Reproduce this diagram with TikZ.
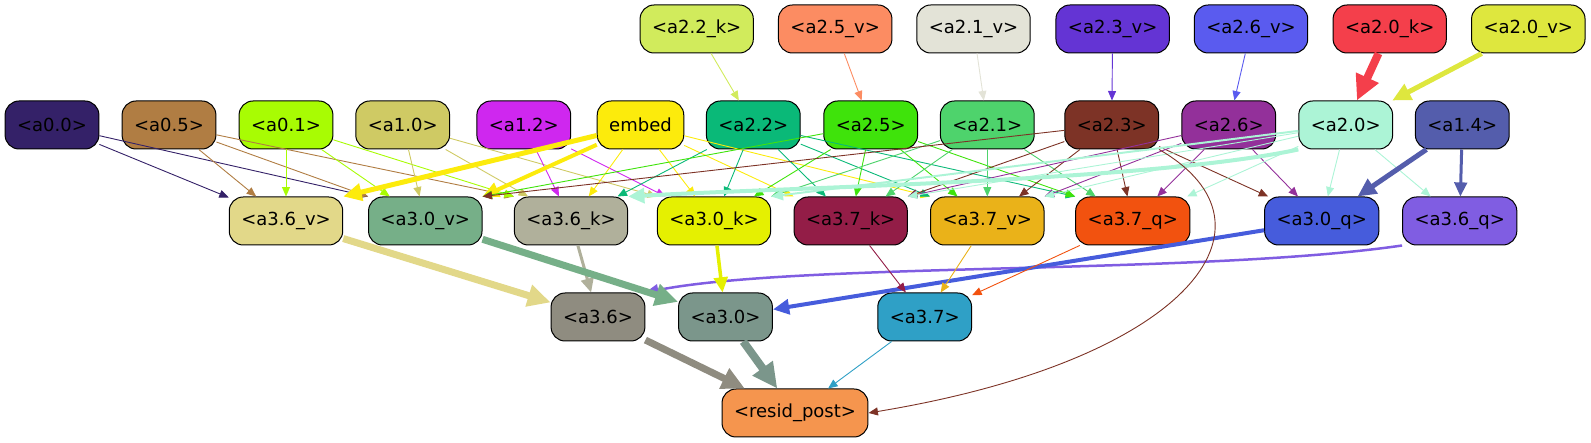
\documentclass[tikz,border=0pt]{standalone}
\usepackage{fontspec}
\setmainfont{DejaVu Sans}
\usetikzlibrary{arrows.meta}
\definecolor{c22k}{HTML}{D1EB5C}
\definecolor{c25v}{HTML}{FC8C62}
\definecolor{c21v}{HTML}{E3E3D7}
\definecolor{c23v}{HTML}{6434D4}
\definecolor{c26v}{HTML}{5A5BEF}
\definecolor{c20k}{HTML}{F43F4B}
\definecolor{c20v}{HTML}{DEE73E}
\definecolor{c00}{HTML}{342168}
\definecolor{c05}{HTML}{B07D43}
\definecolor{c01}{HTML}{A8FC03}
\definecolor{c10}{HTML}{CFCA64}
\definecolor{c12}{HTML}{CF27EF}
\definecolor{cemb}{HTML}{FCEB0C}
\definecolor{c22}{HTML}{0AB978}
\definecolor{c25}{HTML}{3FE30B}
\definecolor{c21}{HTML}{4ED36C}
\definecolor{c23}{HTML}{7D3326}
\definecolor{c26}{HTML}{93309A}
\definecolor{c20}{HTML}{ACF4D6}
\definecolor{c14}{HTML}{545DAC}
\definecolor{c36v}{HTML}{E2D889}
\definecolor{c30v}{HTML}{76AF88}
\definecolor{c36k}{HTML}{B0B09B}
\definecolor{c30k}{HTML}{E5F001}
\definecolor{c37k}{HTML}{931D47}
\definecolor{c37v}{HTML}{EAB219}
\definecolor{c37q}{HTML}{F2520F}
\definecolor{c30q}{HTML}{465CDC}
\definecolor{c36q}{HTML}{805DE2}
\definecolor{c36}{HTML}{8F8C80}
\definecolor{c30}{HTML}{7B968B}
\definecolor{c37}{HTML}{2FA0C6}
\definecolor{cres}{HTML}{F5954E}
\tikzset{
  blk/.style={draw=black, line width=1pt, rounded corners=14pt, minimum height=48pt,
    inner xsep=12pt, inner ysep=0pt, text=black, font=\fontsize{18}{21}\selectfont},
  lnk/.style={-{Triangle[length=7.5pt 2.2, width=6pt 2.2]}, line width=#1},
  lnk/.default=0.9pt
}

\begin{document}
\begin{tikzpicture}[x=1pt, y=1pt]
\useasboundingbox (0,0) rectangle (1591,443);

% top row
\node[blk, fill=c22k] (a22k) at (696.7,414) {<a2.2\_k>};
\node[blk, fill=c25v] (a25v) at (835.2,414) {<a2.5\_v>};
\node[blk, fill=c21v] (a21v) at (973.5,414) {<a2.1\_v>};
\node[blk, fill=c23v] (a23v) at (1112.7,414) {<a2.3\_v>};
\node[blk, fill=c26v] (a26v) at (1251,414) {<a2.6\_v>};
\node[blk, fill=c20k] (a20k) at (1389.7,414) {<a2.0\_k>};
\node[blk, fill=c20v] (a20v) at (1528.3,414) {<a2.0\_v>};

% second row
\node[blk, fill=c00] (a00) at (52,318) {<a0.0>};
\node[blk, fill=c05] (a05) at (169,318) {<a0.5>};
\node[blk, fill=c01] (a01) at (286,318) {<a0.1>};
\node[blk, fill=c10] (a10) at (402.7,318) {<a1.0>};
\node[blk, fill=c12] (a12) at (523.8,318) {<a1.2>};
\node[blk, fill=cemb] (emb) at (640.5,318) {embed};
\node[blk, fill=c22] (a22) at (753.3,318) {<a2.2>};
\node[blk, fill=c25] (a25) at (870.7,318) {<a2.5>};
\node[blk, fill=c21] (a21) at (987.3,318) {<a2.1>};
\node[blk, fill=c23] (a23) at (1111.7,318) {<a2.3>};
\node[blk, fill=c26] (a26) at (1228.7,318) {<a2.6>};
\node[blk, fill=c20] (a20) at (1345.7,318) {<a2.0>};
\node[blk, fill=c14] (a14) at (1462.3,318) {<a1.4>};

% third row
\node[blk, fill=c36v] (a36v) at (286,222) {<a3.6\_v>};
\node[blk, fill=c30v] (a30v) at (425.3,222) {<a3.0\_v>};
\node[blk, fill=c36k] (a36k) at (571,222) {<a3.6\_k>};
\node[blk, fill=c30k] (a30k) at (714,222) {<a3.0\_k>};
\node[blk, fill=c37k] (a37k) at (850.7,222) {<a3.7\_k>};
\node[blk, fill=c37v] (a37v) at (987.3,222) {<a3.7\_v>};
\node[blk, fill=c37q] (a37q) at (1132.8,222) {<a3.7\_q>};
\node[blk, fill=c30q] (a30q) at (1321.7,222) {<a3.0\_q>};
\node[blk, fill=c36q] (a36q) at (1459.7,222) {<a3.6\_q>};

% fourth and last row
\node[blk, fill=c36] (a36) at (598,126) {<a3.6>};
\node[blk, fill=c30] (a30) at (725.5,126) {<a3.0>};
\node[blk, fill=c37] (a37) at (924.7,126) {<a3.7>};
\node[blk, fill=cres] (res) at (795,30) {<resid\_post>};

% into the second row
\draw[lnk, c22k] (a22k) -- (a22);
\draw[lnk, c25v] (a25v) -- (a25);
\draw[lnk, c21v] (a21v) -- (a21);
\draw[lnk, c23v] (a23v) -- (a23);
\draw[lnk, c26v] (a26v) -- (a26);
\draw[lnk=8pt, c20k] (a20k) -- (a20);
\draw[lnk=5pt, c20v] (a20v) -- (a20);

% into the third row
\draw[lnk, c00] (a00) -- (a36v);
\draw[lnk, c00] (a00) -- (a30v.north west);
\draw[lnk, c05] (a05) -- (a36v);
\draw[lnk, c05] (a05) -- (a30v.north west);
\draw[lnk, c05] (a05) -- (a36k.north west);
\draw[lnk, c01] (a01) -- (a36v);
\draw[lnk, c01] (a01) -- (a30v);
\draw[lnk, c01] (a01) -- (a36k.north west);
\draw[lnk, c10] (a10) -- (a30v);
\draw[lnk, c10] (a10) -- (a36k);
\draw[lnk, c10] (a10) -- (a30k.north west);
\draw[lnk, c12] (a12) -- (a36k);
\draw[lnk, c12] (a12) -- (a30k);
\draw[lnk=5pt, cemb] (emb) -- (a36v.north east);
\draw[lnk=4pt, cemb] (emb) -- (a30v.north east);
\draw[lnk, cemb] (emb) -- (a36k);
\draw[lnk, cemb] (emb) -- (a30k);
\draw[lnk, cemb] (emb) -- (a37k.north west);
\draw[lnk, cemb] (emb) -- (a37v.north west);
\draw[lnk, c22] (a22) -- (a36k);
\draw[lnk, c22] (a22) -- (a30k);
\draw[lnk, c22] (a22) -- (a37k);
\draw[lnk, c22] (a22) -- (a37v.north west);
\draw[lnk, c22] (a22) -- (a37q.north west);
\draw[lnk, c25] (a25) -- (a30v.north east);
\draw[lnk, c25] (a25) -- (a30k);
\draw[lnk, c25] (a25) -- (a37k);
\draw[lnk, c25] (a25) -- (a37v);
\draw[lnk, c25] (a25) -- (a37q.north west);
\draw[lnk, c21] (a21) -- (a30k.north east);
\draw[lnk, c21] (a21) -- (a37k);
\draw[lnk, c21] (a21) -- (a37v);
\draw[lnk, c21] (a21) -- (a37q);
\draw[lnk, c23] (a23) -- (a30v.north east);
\draw[lnk, c23] (a23) -- (a37k.north east);
\draw[lnk, c23] (a23) -- (a37v);
\draw[lnk, c23] (a23) -- (a37q);
\draw[lnk, c23] (a23) -- (a30q);
\draw[lnk, c26] (a26) -- (a37k.north east);
\draw[lnk, c26] (a26) -- (a37v.north east);
\draw[lnk, c26] (a26) -- (a37q);
\draw[lnk, c26] (a26) -- (a30q);
\draw[lnk=4pt, c20] (a20.south west) .. controls (1150,262) and (800,256) .. (a36k.north east);
\draw[lnk=2pt, c20] (a20) -- (a30k.north east);
\draw[lnk, c20] (a20) -- (a37k.north east);
\draw[lnk, c20] (a20) -- (a37v.north east);
\draw[lnk, c20] (a20) -- (a37q);
\draw[lnk, c20] (a20) -- (a30q);
\draw[lnk, c20] (a20) -- (a36q);
\draw[lnk=5pt, c14] (a14) -- (a30q);
\draw[lnk=3pt, c14] (a14) -- (a36q);

% into the fourth row
\draw[lnk=7pt, c36v] (a36v) -- (a36);
\draw[lnk=3pt, c36k] (a36k) -- (a36);
\draw[lnk=2.5pt, c36q] (a36q.south west) .. controls (1200,168) and (800,181) .. (a36.north east);
\draw[lnk=7pt, c30v] (a30v) -- (a30);
\draw[lnk=3.5pt, c30k] (a30k) -- (a30);
\draw[lnk=4pt, c30q] (a30q) -- (a30);
\draw[lnk, c37k] (a37k) -- (a37);
\draw[lnk, c37v] (a37v) -- (a37);
\draw[lnk, c37q] (a37q) -- (a37);

% into resid_post
\draw[lnk=7pt, c36] (a36) -- (res);
\draw[lnk=8pt, c30] (a30) -- (res);
\draw[lnk, c37] (a37) -- (res);
\draw[lnk, c23] (a23.south east) .. controls (1290,218) and (1190,83) .. (res.east);

\end{tikzpicture}
\end{document}
